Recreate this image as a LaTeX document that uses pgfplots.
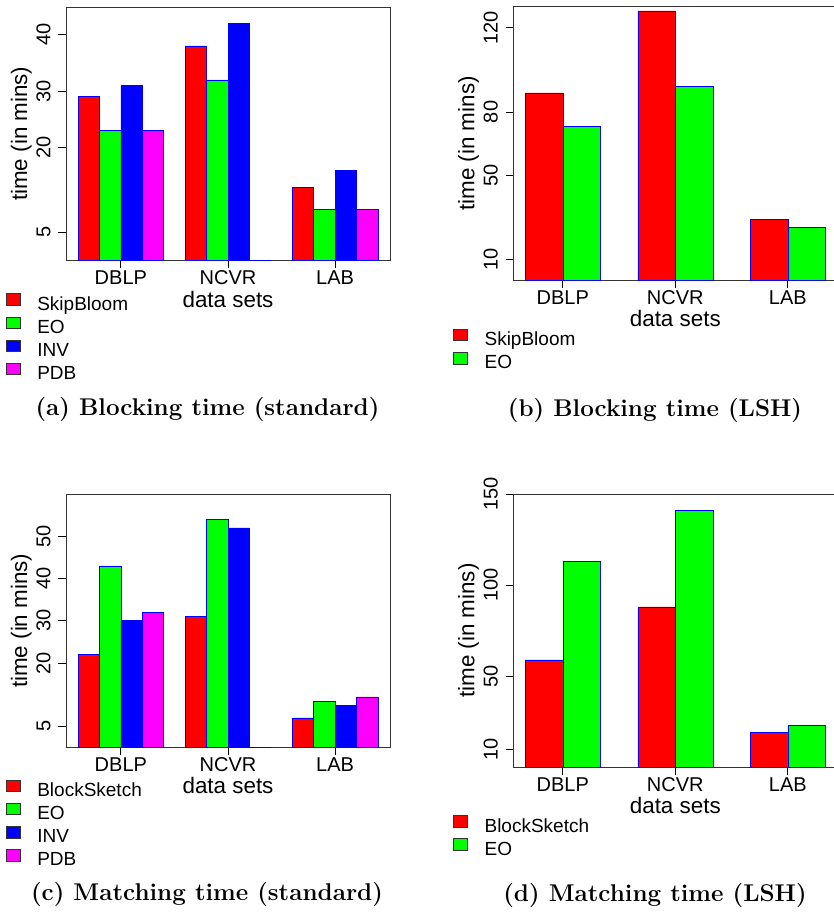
\documentclass[border=0pt]{standalone}
\usepackage{fontspec}
\usepackage{pgfplots}
\pgfplotsset{compat=1.18}
\newfontfamily\arial{Liberation Sans}
\newcommand\labfont{\arial\fontsize{22.4bp}{26bp}\selectfont}
\definecolor{cR}{rgb}{1,0,0}
\definecolor{cG}{rgb}{0,1,0}
\definecolor{cB}{rgb}{0,0,1}
\definecolor{cM}{rgb}{1,0,1}
\pgfplotsset{
  rbar/.style={
    scale only axis, width=324bp, anchor=south west,
    enlargelimits=false, ymin=0,
    ybar, bar width=1, bar shift=0pt,
    tick align=outside, xtick pos=bottom, ytick pos=left,
    major tick length=7.5bp,
    major tick style={black, line width=0.75bp},
    axis line style={black!80, line width=0.75bp},
    /pgf/number format/assume math mode=true,
    ticklabel style={font=\arial\fontsize{20bp}{24bp}\selectfont, inner sep=0pt},
    yticklabel style={rotate=90, anchor=south},
    xticklabel style={anchor=north},
    yticklabel shift=7.8bp,
    xticklabel shift=2.5bp,
    xticklabels={DBLP,NCVR,LAB},
    every axis y label/.style={at={(axis description cs:-0.138,0.5)}, rotate=90, anchor=center, font=\labfont, inner sep=0pt},
    ylabel={time (in mins)}, xlabel={data sets},
    legend cell align=left,
    legend style={draw=none, fill=none, inner sep=0pt, outer sep=0pt,
      anchor=north west, column sep=16.7bp, row sep=2.1bp,
      font=\arial\fontsize{19bp}{22bp}\selectfont,
      nodes={inner sep=0pt, text height=14bp, text depth=4bp}},
  },
  xlab/.style={every axis x label/.style={at={(axis description cs:0.5,#1)}, anchor=base, font=\labfont, inner sep=0pt}},
  leg/.style={fill=#1, draw=cB, line width=0.6bp,
    legend image code/.code={\draw[fill=#1, draw=black!80, line width=0.6bp] (0bp,0bp) rectangle (14bp,11.7bp);}},
}
\begin{document}
\begin{tikzpicture}
\useasboundingbox (0,0) rectangle (834bp,912bp);
\clip (0,0) rectangle (834bp,912bp);

% (a) Blocking time (standard)
\begin{axis}[rbar, at={(66bp,651.5bp)}, height=253.5bp,
  xmin=0.44, xmax=15.56, ymax=44.9,
  xtick={3,8,13}, ytick={5,20,30,40},
  xlab=-0.1854,
  legend style={at={(axis description cs:-0.1852,-0.130)}}]
\addplot[leg=cR] coordinates {(1.5,29) (6.5,38) (11.5,13)};
\addplot[leg=cG] coordinates {(2.5,23) (7.5,32) (12.5,9)};
\addplot[leg=cB] coordinates {(3.5,31) (8.5,42) (13.5,16)};
\addplot[leg=cM] coordinates {(4.5,23) (9.5,0) (14.5,9)};
\legend{SkipBloom,EO,INV,PDB}
\end{axis}

% (b) Blocking time (LSH)
\begin{axis}[rbar, at={(513.3bp,631.7bp)}, height=273.6bp,
  xmin=0.68, xmax=9.32, ymax=130,
  xtick={2,5,8}, ytick={10,50,80,120},
  xlab=-0.170,
  legend style={at={(axis description cs:-0.1852,-0.177)}}]
\addplot[leg=cR] coordinates {(1.5,89) (4.5,128) (7.5,29)};
\addplot[leg=cG] coordinates {(2.5,73) (5.5,92) (8.5,25)};
\legend{SkipBloom,EO}
\end{axis}

% (c) Matching time (standard)
\begin{axis}[rbar, at={(66bp,164.5bp)}, height=253.5bp,
  xmin=0.44, xmax=15.56, ymax=60,
  xtick={3,8,13}, ytick={5,20,30,40,50},
  xlab=-0.1834,
  legend style={at={(axis description cs:-0.1852,-0.127)}}]
\addplot[leg=cR] coordinates {(1.5,22) (6.5,31) (11.5,7)};
\addplot[leg=cG] coordinates {(2.5,43) (7.5,54) (12.5,11)};
\addplot[leg=cB] coordinates {(3.5,30) (8.5,52) (13.5,10)};
\addplot[leg=cM] coordinates {(4.5,32) (9.5,0) (14.5,12)};
\legend{BlockSketch,EO,INV,PDB}
\end{axis}

% (d) Matching time (LSH)
\begin{axis}[rbar, at={(513.3bp,144.7bp)}, height=273.3bp,
  xmin=0.68, xmax=9.32, ymax=150,
  xtick={2,5,8}, ytick={10,50,100,150},
  xlab=-0.170,
  legend style={at={(axis description cs:-0.1852,-0.176)}}]
\addplot[leg=cR] coordinates {(1.5,59) (4.5,88) (7.5,19)};
\addplot[leg=cG] coordinates {(2.5,113) (5.5,141) (8.5,23)};
\legend{BlockSketch,EO}
\end{axis}

\node[anchor=base, font=\fontsize{24.2bp}{28bp}\selectfont\bfseries] at (207.5bp,496bp) {(a) Blocking time (standard)};
\node[anchor=base, font=\fontsize{24.2bp}{28bp}\selectfont\bfseries] at (655bp,495bp) {(b) Blocking time (LSH)};
\node[anchor=base, font=\fontsize{24.2bp}{28bp}\selectfont\bfseries] at (207bp,12bp) {(c) Matching time (standard)};
\node[anchor=base, font=\fontsize{24.2bp}{28bp}\selectfont\bfseries] at (655bp,10.5bp) {(d) Matching time (LSH)};
\end{tikzpicture}
\end{document}
